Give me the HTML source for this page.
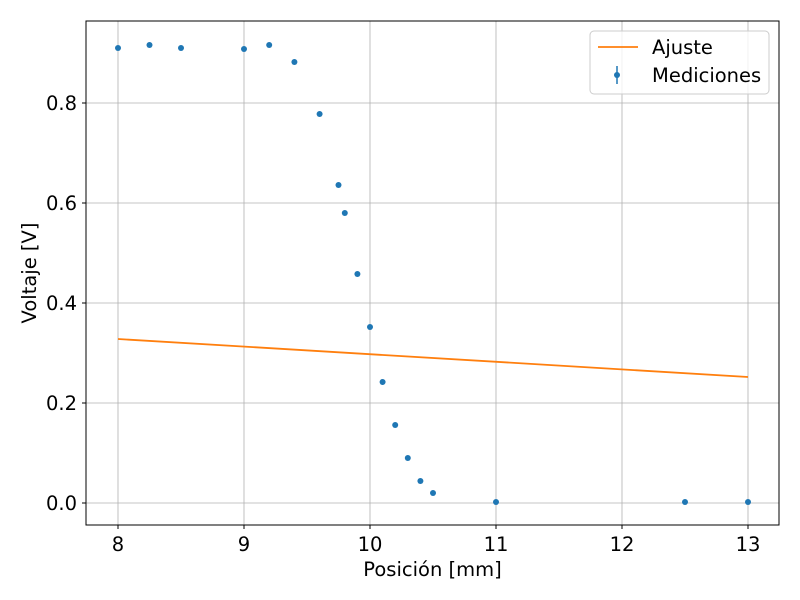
<!DOCTYPE html>
<html><head><meta charset="utf-8">
<style>body{margin:0;background:#fff}svg{display:block;font-family:"DejaVu Sans",sans-serif}</style>
</head><body>
<svg id="chart" width="800" height="600"></svg>
<script>
const xVals=[8,8.25,8.5,9,9.2,9.4,9.6,9.75,9.8,9.9,10,10.1,10.2,10.3,10.4,10.5,11,12.5,13];
const yVals=[0.91,0.916,0.91,0.908,0.916,0.882,0.778,0.636,0.58,0.458,0.352,0.242,0.156,0.09,0.044,0.02,0.002,0.002,0.002];
const fitX=[8,13];
const fitY=[0.328,0.252];
const xTicks=[8,9,10,11,12,13];
const yTicks=[0,0.2,0.4,0.6,0.8];
const L=86,R=779,T=21,B=525;
const FS=19.5;
const sx=v=>118+(v-8)*126;
const sy=v=>503-v*500;
const svg=document.getElementById('chart');
const NS='http://www.w3.org/2000/svg';
function mk(t,a,p){const e=document.createElementNS(NS,t);for(const k in a)e.setAttribute(k,a[k]);(p||svg).appendChild(e);return e;}
xTicks.forEach(v=>{
const g=mk('line',{x1:sx(v),x2:sx(v),y1:T,y2:B,stroke:'#b0b0b0','stroke-width':0.8});


const tk=mk('line',{x1:sx(v),x2:sx(v),y1:B,y2:B+4,stroke:'#000'});


const t=mk('text',{x:sx(v),y:B+26,'text-anchor':'middle','font-size':FS});t.textContent=v;


});
yTicks.forEach(v=>{
const g=mk('line',{x1:L,x2:R,y1:sy(v),y2:sy(v),stroke:'#b0b0b0','stroke-width':0.8});


const tk=mk('line',{x1:L-4,x2:L,y1:sy(v),y2:sy(v),stroke:'#000'});


const t=mk('text',{x:L-9,y:sy(v)+7,'text-anchor':'end','font-size':FS});t.textContent=v.toFixed(1);


});
const fit=mk('polyline',{points:fitX.map((x,i)=>sx(x)+','+sy(fitY[i])).join(' '),fill:'none',stroke:'#ff7f0e','stroke-width':1.8});


xVals.forEach((x,i)=>{
const c=mk('circle',{cx:sx(x),cy:sy(yVals[i]),r:3,fill:'#1f77b4'});


});
const fr=mk('rect',{x:L,y:T,width:R-L,height:B-T,fill:'none',stroke:'#000','stroke-width':1});


const xl=mk('text',{x:(L+R)/2,y:576,'text-anchor':'middle','font-size':FS});xl.textContent='Posición [mm]';


const yl=mk('text',{x:36,y:273,'text-anchor':'middle','font-size':FS,transform:'rotate(-90 36 273)'});yl.textContent='Voltaje [V]';


const lg=mk('g',{});


mk('rect',{x:590,y:31,width:179,height:63,rx:4,fill:'#fff','fill-opacity':0.8,stroke:'#ccc'},lg);
mk('line',{x1:598,x2:638,y1:47,y2:47,stroke:'#ff7f0e','stroke-width':1.8},lg);
const t1=mk('text',{x:652,y:54,'font-size':FS},lg);t1.textContent='Ajuste';


mk('line',{x1:617,x2:617,y1:66,y2:84,stroke:'#1f77b4','stroke-width':1.5},lg);
mk('circle',{cx:617,cy:75,r:3,fill:'#1f77b4'},lg);
const t2=mk('text',{x:652,y:82,'font-size':FS},lg);t2.textContent='Mediciones';


</script>
</body></html>
